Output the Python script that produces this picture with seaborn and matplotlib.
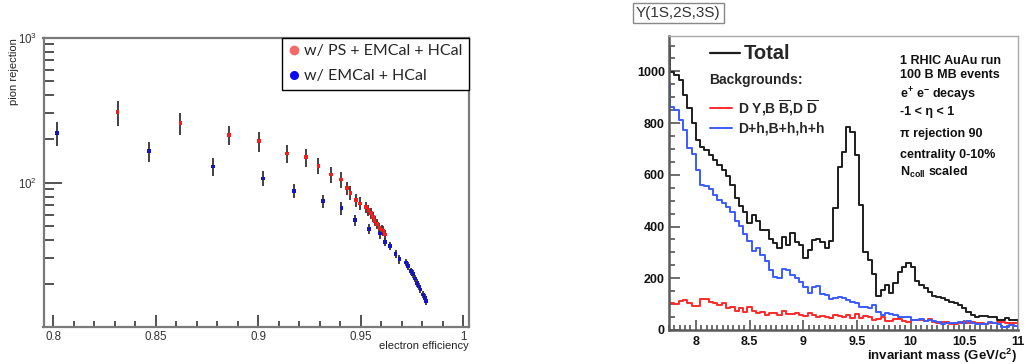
import numpy as np
import pandas as pd
import matplotlib
matplotlib.use("Agg")
import matplotlib.pyplot as plt
from matplotlib.lines import Line2D
from matplotlib.font_manager import FontProperties
from matplotlib.ticker import MultipleLocator, FuncFormatter, LogLocator, NullFormatter
import seaborn as sns

# ---- pion rejection vs electron efficiency ----
eff_ps = [0.8314, 0.862, 0.8856, 0.9004, 0.9142, 0.9232, 0.9294, 0.9357, 0.9403, 0.9432,
          0.945, 0.9476, 0.9496, 0.9525, 0.9538, 0.955, 0.956, 0.9568, 0.9579, 0.9592,
          0.9602, 0.9611, 0.9618]
rej_ps = [307, 258, 213, 194, 159, 150, 131, 114, 105, 92,
          85, 76, 72, 68, 64.6, 61.5, 58, 54.5, 51.7, 48.9,
          47.6, 46.4, 44]
relerr_ps = [0.20, 0.17, 0.15, 0.16, 0.14, 0.14, 0.13, 0.13, 0.12, 0.10,
             0.11, 0.10, 0.10, 0.09, 0.09, 0.08, 0.08, 0.08, 0.08, 0.08,
             0.08, 0.08, 0.08]

eff_cal = [0.8017, 0.8467, 0.878, 0.9025, 0.9176, 0.9316, 0.9406, 0.9473, 0.9541, 0.9595,
           0.9619, 0.9645, 0.9671, 0.9689, 0.972, 0.9731, 0.9746, 0.9754, 0.9764, 0.9775,
           0.9785, 0.9792, 0.9806, 0.9813, 0.9818]
rej_cal = [221, 165, 129, 107, 87.7, 74.8, 67, 55.3, 48.1, 44.5,
           39.1, 36.7, 32.3, 29.7, 28.2, 26.6, 24.5, 23.5, 21.8, 20.3,
           19.2, 18.3, 16.9, 16.0, 15.2]
relerr_cal = [0.19, 0.16, 0.14, 0.12, 0.11, 0.105, 0.10, 0.09, 0.08, 0.08,
              0.07, 0.07, 0.07, 0.07, 0.06, 0.06, 0.06, 0.06, 0.06, 0.06,
              0.06, 0.06, 0.06, 0.06, 0.06]

label_ps = "w/ PS + EMCal + HCal"
label_cal = "w/ EMCal + HCal"

# ---- dielectron invariant mass spectra, 0.04 GeV/c^2 bins ----
mass_edges = [round(7.72 + 0.04 * k, 2) for k in range(83)]
total_counts = [1090, 999, 986, 967, 909, 857, 799, 735, 709, 696,
                677, 658, 640, 620, 595, 560, 510, 480, 455, 413,
                445, 420, 387, 385, 350, 335, 316, 361, 329, 374,
                342, 329, 277, 309, 348, 351, 340, 316, 345, 471,
                632, 690, 786, 767, 676, 483, 303, 271, 215, 131,
                155, 174, 142, 180, 226, 245, 260, 245, 190, 174,
                161, 148, 131, 127, 122, 116, 110, 103, 97, 84,
                71, 58, 51, 53, 55, 49, 49, 39, 39, 45,
                39, 39]
dy_bb_dd = [109, 106, 101, 113, 117, 106, 93, 93, 118, 120,
            108, 103, 98, 106, 86, 88, 75, 84, 71, 88,
            72, 64, 71, 58, 64, 66, 58, 73, 60, 63,
            64, 57, 54, 64, 58, 52, 56, 52, 47, 58,
            53, 51, 57, 47, 62, 47, 53, 52, 40, 44,
            49, 36, 33, 43, 41, 33, 30, 38, 39, 38,
            33, 44, 30, 28, 32, 31, 23, 24, 28, 32,
            26, 31, 28, 28, 24, 26, 27, 31, 32, 26,
            26, 26]
dh_bh_hh = [954, 864, 851, 812, 774, 705, 680, 619, 560, 555,
            545, 522, 503, 492, 477, 455, 422, 403, 372, 345,
            306, 316, 290, 268, 232, 206, 200, 234, 232, 213,
            200, 187, 165, 145, 168, 171, 140, 135, 120, 125,
            129, 125, 116, 110, 103, 88, 90, 86, 97, 71,
            58, 66, 62, 58, 51, 51, 51, 39, 39, 42,
            35, 38, 34, 30, 25, 26, 26, 28, 32, 28,
            36, 27, 23, 23, 24, 30, 27, 23, 13, 13,
            19, 17]

info_lines = ["1 RHIC AuAu run", "100 B MB events", "e$^{\\mathbf{+}}$ e$^{\\mathbf{-}}$ decays",
              "-1 < η < 1", "π rejection 90", "centrality 0-10%", "N$_{\\mathbf{coll}}$ scaled"]

sns.set_style("ticks")
plt.rcParams["font.family"] = ["Liberation Sans", "DejaVu Sans"]
plt.rcParams["mathtext.fontset"] = "custom"
plt.rcParams["mathtext.rm"] = "Liberation Sans"
plt.rcParams["mathtext.it"] = "Liberation Sans:italic"
plt.rcParams["mathtext.bf"] = "Liberation Sans:bold"

fig = plt.figure(figsize=(10.26, 3.64), dpi=100)
W, H = 1026, 364
ax1 = fig.add_axes([43.5 / W, 1 - 327 / H, (469 - 43.5) / W, (327 - 37.7) / H])
ax2 = fig.add_axes([669 / W, 1 - 330 / H, (1018 - 669) / W, (330 - 36) / H])

# ---------------- left panel ----------------
c_ps, c_cal = "#ff1a1a", "#1414c8"
df = pd.DataFrame({
    "eff": eff_cal + eff_ps,
    "rej": rej_cal + rej_ps,
    "setup": [label_cal] * len(eff_cal) + [label_ps] * len(eff_ps),
})
ax1.errorbar(eff_cal, rej_cal, yerr=np.array(rej_cal) * np.array(relerr_cal), fmt="none",
             ecolor="#333333", elinewidth=1.3, capsize=0, zorder=2)
ax1.errorbar(eff_ps, rej_ps, yerr=np.array(rej_ps) * np.array(relerr_ps), fmt="none",
             ecolor="#333333", elinewidth=1.3, capsize=0, zorder=2)
sns.scatterplot(data=df, x="eff", y="rej", hue="setup",
                palette={label_ps: c_ps, label_cal: c_cal},
                marker="s", s=7, linewidth=0, legend=False, ax=ax1, zorder=3)
ax1.set_yscale("log")
ax1.set_xlim(0.7952, 1.0029)
ax1.set_ylim(10.1, 1000)

ax1.xaxis.set_major_locator(MultipleLocator(0.05))
ax1.xaxis.set_minor_locator(MultipleLocator(0.01))
ax1.xaxis.set_major_formatter(FuncFormatter(lambda v, p: f"{v:g}"))
ax1.yaxis.set_major_locator(LogLocator(base=10))
ax1.yaxis.set_minor_locator(LogLocator(base=10, subs=np.arange(2, 10)))
ax1.yaxis.set_minor_formatter(NullFormatter())
ax1.tick_params(which="both", direction="in", colors="#444444", width=1.3,
                labelsize=8.3, labelcolor="#333333")
ax1.tick_params(axis="x", which="major", length=9, pad=3)
ax1.tick_params(axis="x", which="minor", length=4)
ax1.tick_params(axis="y", which="major", length=13, pad=5)
ax1.tick_params(axis="y", which="minor", length=7)
for side in ["left", "bottom", "top", "right"]:
    ax1.spines[side].set_color("#7a7a7a")
    ax1.spines[side].set_linewidth(1.6)

ax1.set_xlabel("electron efficiency", fontsize=8, color="#222222", ha="right")
ax1.xaxis.set_label_coords(0.9995, -0.05)
ax1.set_ylabel("pion rejection", fontsize=8, color="#222222", ha="right")
ax1.yaxis.set_label_coords(-0.058, 1.0)

handles = [Line2D([], [], marker="o", ls="", color="#f26a6a", markersize=6),
           Line2D([], [], marker="o", ls="", color="#0a0af5", markersize=5.5)]
leg = ax1.legend(handles, [label_ps, label_cal], loc="upper right", bbox_to_anchor=(1, 1),
                 borderaxespad=0, frameon=True, fancybox=False, edgecolor="black",
                 framealpha=1, prop=FontProperties(family="Lato", size=11.5),
                 handletextpad=0.37, handlelength=0.6, borderpad=0.4, labelspacing=0.68)
leg.get_frame().set_linewidth(1.0)

# ---------------- right panel ----------------
centers = [(a + b) / 2 for a, b in zip(mass_edges[:-1], mass_edges[1:])]
spectra = pd.DataFrame({
    "mass": centers * 3,
    "counts": dy_bb_dd + dh_bh_hh + total_counts,
    "source": ["dy"] * len(centers) + ["dh"] * len(centers) + ["total"] * len(centers),
})
for key, col in [("dy", "#ff2a2a"), ("dh", "#3a5cff"), ("total", "#1e1e1e")]:
    sns.histplot(data=spectra[spectra["source"] == key], x="mass", weights="counts",
                 bins=mass_edges, element="step", fill=False,
                 color=col, linewidth=1.4, ax=ax2)
ax2.set_xlim(7.75, 11.0)
ax2.set_ylim(0, 1137)
ax2.xaxis.set_major_locator(MultipleLocator(0.5))
ax2.xaxis.set_minor_locator(MultipleLocator(0.05))
ax2.xaxis.set_major_formatter(FuncFormatter(lambda v, p: f"{v:g}"))
ax2.yaxis.set_major_locator(MultipleLocator(200))
ax2.yaxis.set_minor_locator(MultipleLocator(50))
ax2.tick_params(which="both", direction="in", colors="#555555", width=1.2,
                labelsize=9, labelcolor="#111111")
ax2.tick_params(axis="x", which="major", length=7, pad=4)
ax2.tick_params(axis="x", which="minor", length=3.5)
ax2.tick_params(axis="y", which="major", length=8, pad=3)
ax2.tick_params(axis="y", which="minor", length=4)
for lab in ax2.get_xticklabels() + ax2.get_yticklabels():
    lab.set_fontweight("bold")
for side in ["left", "bottom"]:
    ax2.spines[side].set_color("#5a5a5a")
    ax2.spines[side].set_linewidth(1.8)
for side in ["top", "right"]:
    ax2.spines[side].set_color("#aaaaaa")
    ax2.spines[side].set_linewidth(1.0)

ax2.set_ylabel("")
ax2.set_xlabel("invariant mass (GeV/c$^{\\mathbf{2}}$)", fontsize=9.5, fontweight="bold",
               color="#111111", ha="right")
ax2.xaxis.set_label_coords(0.996, -0.058)

tr = ax2.transAxes
ax2.plot([0.1175, 0.2035], [0.941, 0.941], transform=tr, color="#1e1e1e", lw=1.6)
ax2.text(0.215, 0.941, "Total", transform=tr, fontsize=14.5, fontweight="bold", va="center")
ax2.text(0.1155, 0.850, "Backgrounds:", transform=tr, fontsize=10, fontweight="bold", va="center")
ax2.plot([0.1175, 0.1795], [0.754, 0.754], transform=tr, color="#ff2a2a", lw=1.4)
ax2.text(0.1985, 0.754, "D Y,B $\\overline{\\mathbf{B}}$,D $\\overline{\\mathbf{D}}$", transform=tr,
         fontsize=10, fontweight="bold", va="center")
ax2.plot([0.1175, 0.1795], [0.686, 0.686], transform=tr, color="#3a5cff", lw=1.4)
ax2.text(0.1985, 0.686, "D+h,B+h,h+h", transform=tr, fontsize=10, fontweight="bold", va="center")

for txt, yy in zip(info_lines, [0.915, 0.867, 0.799, 0.741, 0.667, 0.595, 0.537]):
    ax2.text(0.663, yy, txt, transform=tr, fontsize=9, fontweight="bold", va="center",
             color="#111111")

fig.text(636 / W, 1 - 12.7 / H, "Υ(1S,2S,3S)", ha="left", va="center", fontsize=11,
         color="#333333",
         bbox=dict(boxstyle="square,pad=0.2", fc="white", ec="#888888", lw=1.0))

fig.savefig("out.png", dpi=100)
